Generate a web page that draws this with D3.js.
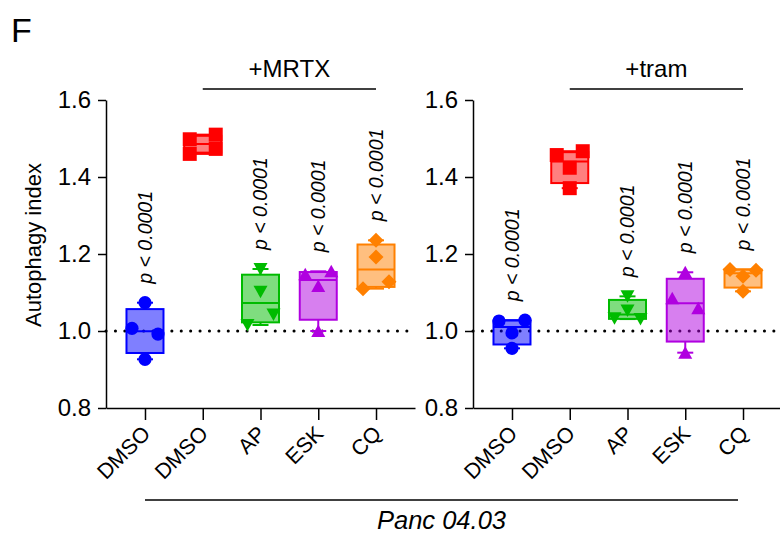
<!DOCTYPE html>
<html>
<head>
<meta charset="utf-8">
<script src="https://cdn.jsdelivr.net/npm/d3@7"></script>
<style>
  html, body { margin: 0; padding: 0; background: #fff; }
  svg { display: block; }
  text { font-family: "Liberation Sans", Arial, sans-serif; fill: #000; }
</style>
</head>
<body>
<svg id="chart" width="780" height="550"></svg>
<script>
// ---------------- DATA ----------------
const categories = ["DMSO", "DMSO", "AP", "ESK", "CQ"];
const panelLabels = ["+MRTX", "+tram"];
const yTicks = [0.8, 1.0, 1.2, 1.4, 1.6];
const cellLine = "Panc 04.03";
const panelLetter = "F";
const yTitle = "Autophagy index";
const pLabels = ["p < 0.0001", null, "p < 0.0001", "p < 0.0001", "p < 0.0001"];

// Autophagy index replicates, per category (left panel: +MRTX)
const mrtxDMSO0 = [1.0735, 1.007, 0.992, 0.9265];
const mrtxDMSO1 = [1.498, 1.46, 1.51, 1.473];
const mrtxAP    = [1.161, 1.102, 1.0156, 1.043];
const mrtxESK   = [1.1476, 1.155, 1.117, 1.0];
const mrtxCQ    = [1.2355, 1.192, 1.11, 1.128];

// right panel: +tram
const tramDMSO0 = [1.026, 0.995, 1.028, 0.955];
const tramDMSO1 = [1.457, 1.467, 1.424, 1.371];
const tramAP    = [1.033, 1.053, 1.031, 1.09];
const tramESK   = [1.1525, 1.085, 1.059, 0.9437];
const tramCQ    = [1.16, 1.142, 1.158, 1.103];

const panelData = [
  [mrtxDMSO0, mrtxDMSO1, mrtxAP, mrtxESK, mrtxCQ],
  [tramDMSO0, tramDMSO1, tramAP, tramESK, tramCQ]
];

// ---------------- STYLE ----------------
const colors = ["#0000ff", "#ff0000", "#00bb00", "#b000e0", "#ff8000"];
const shapes = ["circle", "square", "triDown", "triUp", "diamond"];

const svg = d3.select("#chart");

const y = d3.scaleLinear().domain([0.8, 1.6]).range([408, 100]);
const panelRanges = [[106, 415], [473, 782]];

function quantile6(sorted, p) {
  const n = sorted.length;
  let h = (n + 1) * p;
  if (h <= 1) return sorted[0];
  if (h >= n) return sorted[n - 1];
  const lo = Math.floor(h);
  return sorted[lo - 1] + (h - lo) * (sorted[lo] - sorted[lo - 1]);
}

function shapePath(kind) {
  switch (kind) {
    case "circle": return d3.symbol(d3.symbolCircle, Math.PI * 6.6 * 6.6)();
    case "square": return "M-7,-7H7V7H-7Z";
    case "triUp": return "M0,-6.5L7,6L-7,6Z";
    case "triDown": return "M0,6.5L7,-6L-7,-6Z";
    case "diamond": return "M0,-7.5L7.5,0L0,7.5L-7.5,0Z";
  }
}

// horizontal scatter: points with overlapping y are spread side by side
function spread(vals) {
  const pts = vals.map((v, i) => ({ v, i, py: y(v), dx: 0 }));
  const sorted = pts.slice().sort((a, b) => a.py - b.py);
  const rows = [];
  sorted.forEach(p => {
    const row = rows[rows.length - 1];
    if (row && p.py - row[0].py < 13) row.push(p); else rows.push([p]);
  });
  rows.forEach(row => {
    row.sort((a, b) => a.i - b.i);
    const n = row.length;
    row.forEach((p, k) => {
      p.dx = n === 1 ? 0 : (n === 2 ? (k === 0 ? -13 : 13) : (k - (n - 1) / 2) * 13);
    });
  });
  return pts;
}

panelData.forEach((groups, pi) => {
  const [x0, x1] = panelRanges[pi];
  const x = d3.scalePoint().domain(d3.range(categories.length)).range([x0, x1]).padding(0.675);
  const g = svg.append("g");

  // dotted reference line at 1.0
  g.append("line")
    .attr("x1", x0).attr("x2", x1)
    .attr("y1", y(1.0)).attr("y2", y(1.0))
    .attr("stroke", "#000").attr("stroke-width", 3)
    .attr("stroke-linecap", "round").attr("stroke-dasharray", "0.1 9.3");

  // y axis
  const ya = g.append("g").attr("transform", `translate(${x0},0)`)
    .call(d3.axisLeft(y).tickValues(yTicks).tickFormat(d3.format(".1f")).tickSize(8).tickSizeOuter(0).tickPadding(7));
  ya.selectAll("text").style("font-size", "24px").attr("font-family", null);
  ya.selectAll("line,path").attr("stroke", "#000").attr("stroke-width", 1.5);

  // x axis
  const xa = g.append("g").attr("transform", `translate(0,${y(0.8)})`)
    .call(d3.axisBottom(x).tickSize(12).tickSizeOuter(0).tickFormat(i => categories[i]));
  xa.selectAll("line,path").attr("stroke", "#000").attr("stroke-width", 1.5);
  xa.selectAll("text")
    .attr("y", null).attr("dy", null)
    .style("font-size", "21.5px").attr("font-family", null)
    .attr("text-anchor", "end")
    .attr("transform", "translate(6,27) rotate(-45)");

  groups.forEach((vals, ci) => {
    const cx = x(ci);
    const s = vals.slice().sort(d3.ascending);
    const q1 = quantile6(s, 0.25), med = quantile6(s, 0.5), q3 = quantile6(s, 0.75);
    const mn = s[0], mx = s[s.length - 1];
    const col = colors[ci];
    const bw = 37, cw = 16;
    const bg = g.append("g");
    // whiskers
    bg.append("line").attr("x1", cx).attr("x2", cx).attr("y1", y(mx)).attr("y2", y(q3))
      .attr("stroke", col).attr("stroke-width", 2);
    bg.append("line").attr("x1", cx).attr("x2", cx).attr("y1", y(q1)).attr("y2", y(mn))
      .attr("stroke", col).attr("stroke-width", 2);
    [mx, mn].forEach(v => bg.append("line").attr("x1", cx - cw / 2).attr("x2", cx + cw / 2)
      .attr("y1", y(v)).attr("y2", y(v)).attr("stroke", col).attr("stroke-width", 2));
    // box
    bg.append("rect").attr("x", cx - bw / 2).attr("width", bw)
      .attr("y", y(q3)).attr("height", y(q1) - y(q3))
      .attr("fill", col).attr("fill-opacity", 0.5)
      .attr("stroke", col).attr("stroke-width", 2);
    bg.append("line").attr("x1", cx - bw / 2).attr("x2", cx + bw / 2)
      .attr("y1", y(med)).attr("y2", y(med)).attr("stroke", col).attr("stroke-width", 2);
    // points
    spread(vals).forEach(p => {
      bg.append("path").attr("d", shapePath(shapes[ci]))
        .attr("transform", `translate(${cx + p.dx},${p.py})`)
        .attr("fill", col);
    });
    // p-value label
    if (pLabels[ci]) {
      const ty = y(mx) - 19;
      const t = g.append("text")
        .attr("transform", `translate(${cx},${ty}) rotate(-90)`)
        .attr("dy", "0.35em")
        .style("font-size", "19.5px").style("font-style", "italic");
      t.append("tspan").text(pLabels[ci]);
    }
  });

  // treatment bracket
  const by = 89;
  g.append("line").attr("x1", x(1)).attr("x2", x(4)).attr("y1", by).attr("y2", by)
    .attr("stroke", "#000").attr("stroke-width", 1.3);
  g.append("text").attr("x", (x(1) + x(4)) / 2).attr("y", by - 12)
    .attr("text-anchor", "middle").style("font-size", "24px").text(panelLabels[pi]);

  if (pi === 0) {
    g.append("text")
      .attr("transform", `translate(${x0 - 65},${(y(0.8) + y(1.6)) / 2 - 9}) rotate(-90)`)
      .attr("text-anchor", "middle").style("font-size", "22px").text(yTitle);
  }
});

// bottom bracket with cell line
{
  const xL = d3.scalePoint().domain(d3.range(5)).range(panelRanges[0]).padding(0.675);
  const xR = d3.scalePoint().domain(d3.range(5)).range(panelRanges[1]).padding(0.675);
  const a = xL(0), b = xR(4) - 5;
  svg.append("line").attr("x1", a).attr("x2", b).attr("y1", 500).attr("y2", 500)
    .attr("stroke", "#000").attr("stroke-width", 1.3);
  svg.append("text").attr("x", (a + b) / 2).attr("y", 529).attr("text-anchor", "middle")
    .style("font-size", "25.5px").style("font-style", "italic").text(cellLine);
}

svg.append("text").attr("x", 11).attr("y", 42).style("font-size", "34px").text(panelLetter);
</script>
</body>
</html>
